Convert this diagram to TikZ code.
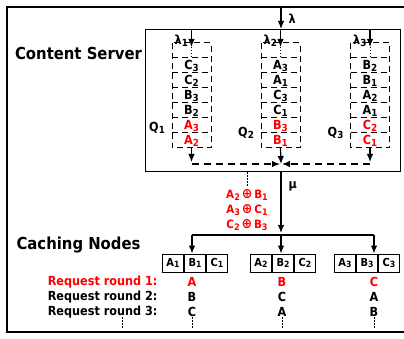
\documentclass[tikz,border=0pt]{standalone}
\usepackage{fontspec}
\usepackage{graphicx}
\setmainfont{DejaVu Sans}[FakeStretch=0.9]
\usetikzlibrary{calc,positioning,arrows.meta}

\newcommand{\sbs}[1]{\raisebox{-0.3ex}{\scalebox{0.78}{#1}}}

\tikzset{
  title/.style={font=\bfseries\fontsize{16.5}{18}\selectfont,inner sep=0pt},
  qline/.style={line width=1pt,dash pattern=on 6pt off 4pt},
  qtext/.style={font=\bfseries\fontsize{12.5}{12}\selectfont,inner sep=0pt},
  lbl/.style={font=\bfseries\fontsize{12.5}{12}\selectfont,inner sep=0pt},
  xor/.style={font=\bfseries\fontsize{11.5}{12}\selectfont,text=red,inner sep=0pt},
  cc/.style={draw,line width=1pt,minimum width=21pt,minimum height=18pt,inner sep=0pt,
    font=\bfseries\fontsize{11}{10}\selectfont},
  req/.style={font=\bfseries\fontsize{12.5}{13}\selectfont,inner sep=0pt},
  dots/.style={line width=1pt,dash pattern=on 1.5pt off 1.5pt}
}

\begin{document}
\begin{tikzpicture}[x=1pt,y=-1pt,>={Latex[length=8pt,width=6.5pt]},line width=1.2pt]
\useasboundingbox (0,0) rectangle (404,339);

% frame
\draw[line width=1.8pt] (7,7) rectangle (410,332);

% content server
\node[draw,line width=1.3pt,minimum width=255pt,minimum height=142pt,inner sep=0pt,anchor=north west] (srv) at (145,29) {};
\node[title] (srvlbl) at (78.5,53) {Content Server};
\node[title] (cachelbl) at (78.5,245) {Caching Nodes};

\coordinate (lamin) at (281,7);
\draw[->] (lamin) -- (lamin |- srv.north);
\node[lbl,anchor=west] (lam) at (288,19) {λ};

% queues
\foreach \q/\cx/\qy in {1/191.5/128,2/280.5/133,3/370/133}{
  \coordinate (top\q) at (\cx,43);
  \coordinate (bot\q) at (\cx,148);
  \draw[qline] (\cx-19.5,43) rectangle (\cx+19.5,148);
  \foreach \r in {1,...,6}
    \draw[qline] (\cx-19.5,43+15*\r) -- (\cx+19.5,43+15*\r);
  \draw[->] (top\q |- srv.north) -- ([yshift=-4pt]top\q);
  \draw[dots] ([yshift=-4pt]top\q) -- ++(0,10);
  \node[lbl,anchor=east] (lam\q) at (\cx-3,41) {λ\sbs{\q}};
  \node[lbl,anchor=east] (qn\q) at (\cx-26,\qy) {Q\sbs{\q}};
}

% queue contents
\foreach \q/\r/\l/\s/\c in {1/1/C/3/black,1/2/C/2/black,1/3/B/3/black,1/4/B/2/black,1/5/A/3/red,1/6/A/2/red,
    2/1/A/3/black,2/2/A/1/black,2/3/C/3/black,2/4/C/1/black,2/5/B/3/red,2/6/B/1/red,
    3/1/B/2/black,3/2/B/1/black,3/3/A/2/black,3/4/A/1/black,3/5/C/2/red,3/6/C/1/red}
  \node[qtext,text=\c] (q\q c\r) at ($(top\q)+(0,15*\r+8)$) {\l\sbs{\s}};

% merge
\coordinate (mrg) at (281,164);
\draw[->] (bot1) -- ++(0,14);
\draw[->] (bot3) -- ++(0,14);
\draw[->] (bot2) -- (mrg);
\draw[->,dashed,dash pattern=on 7pt off 5pt] (bot1 |- mrg) -- ([xshift=-1pt]mrg);
\draw[->,dashed,dash pattern=on 7pt off 5pt] (bot3 |- mrg) -- ([xshift=1pt]mrg);

% coded multicast
\coordinate (bus1) at (192,235);
\coordinate (bus2) at (281,235);
\coordinate (bus3) at (374,235);
\draw[->] (srv.south -| bus2) -- ([yshift=2pt]bus2);
\node[lbl,anchor=west] (mu) at (288,186) {μ};
\node[xor] (x1) at (247,195) {A\sbs{2}\,{\fontsize{14}{12}\selectfont ⊕}\,B\sbs{1}};
\node[xor] (x2) at (247,210) {A\sbs{3}\,{\fontsize{14}{12}\selectfont ⊕}\,C\sbs{1}};
\node[xor] (x3) at (247,225) {C\sbs{2}\,{\fontsize{14}{12}\selectfont ⊕}\,B\sbs{3}};
\draw[dots] (srv.south -| x1) -- ++(0,15);
\draw (bus1) -- (bus3);

% caches
\foreach \n/\cx in {1/195,2/283,3/367}{
  \node[cc] (m\n) at (\cx,263) {B\sbs{\n}};
  \node[cc,left=0pt of m\n] (l\n) {A\sbs{\n}};
  \node[cc,right=0pt of m\n] (r\n) {C\sbs{\n}};
}
\foreach \n in {1,2,3}
  \draw[->] (bus\n) -- (bus\n |- m\n.north);

% requests
\foreach \r/\c in {1/red,2/black,3/black}
  \node[req,anchor=east,text=\c] (rq\r) at (158,267+15*\r) {Request round \r:};
\foreach \n/\x in {1/192,2/282,3/374}{
  \coordinate (col\n) at (\x,267);
}
\foreach \n/\r/\l/\c in {1/1/A/red,1/2/B/black,1/3/C/black,
    2/1/B/red,2/2/C/black,2/3/A/black,
    3/1/C/red,3/2/A/black,3/3/B/black}
  \node[req,text=\c] (a\n\r) at ($(col\n)+(0,15*\r)$) {\l};
\foreach \x in {122,192,282,374}
  \draw[dots] (\x,317) -- (\x,328);
\end{tikzpicture}
\end{document}
